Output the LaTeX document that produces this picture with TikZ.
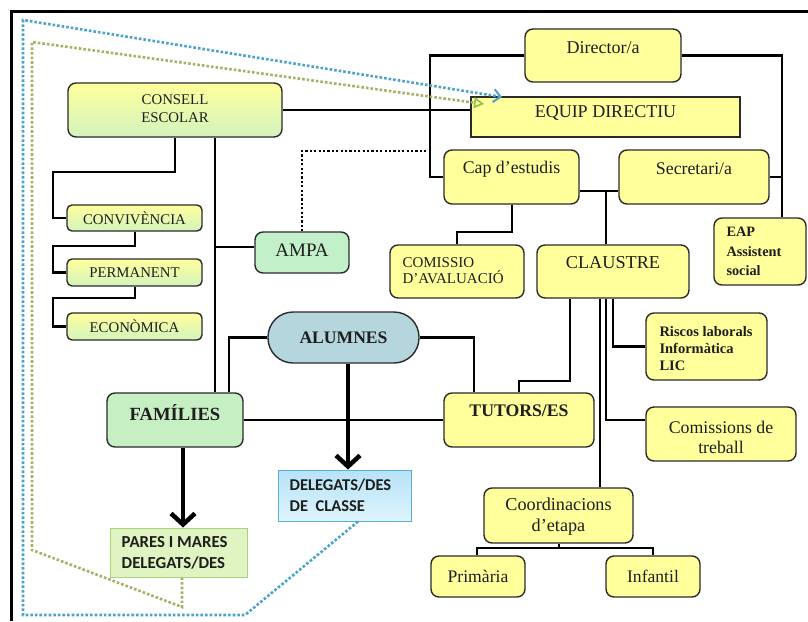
\documentclass[tikz,border=0pt]{standalone}
\usepackage{fontspec}
\setmainfont{Liberation Serif}
\newfontfamily\calfont{Carlito}
\usetikzlibrary{arrows.meta,calc}
\definecolor{yel}{HTML}{FFFF9C}
\definecolor{bord}{HTML}{2B2B2B}
\definecolor{txt}{HTML}{1E1E1E}
\definecolor{ceg}{HTML}{D3F4BE}
\definecolor{famg}{HTML}{C6F0C4}
\definecolor{ampg}{HTML}{C2F0C8}
\definecolor{alb}{HTML}{B5D6DC}
\definecolor{dctop}{HTML}{B7E3F7}
\definecolor{dcbot}{HTML}{DDF4FC}
\definecolor{dcbord}{HTML}{5AAFD9}
\definecolor{parf}{HTML}{E0F4C2}
\definecolor{parbord}{HTML}{A9D37F}
\definecolor{bluedot}{HTML}{4BA3CB}
\definecolor{greendot}{HTML}{A8B067}
\definecolor{greentip}{HTML}{8CBF4E}
\newcommand{\fz}[2]{\fontsize{#1}{#2}\selectfont}
\newcommand{\mkbox}[6]{%
  \node[#2, minimum width={(#5-#3)*1pt}, minimum height={(#6-#4)*1pt}] (#1) at ({(#3+#5)/2},{(#4+#6)/2}) {};}
\begin{document}
\begin{tikzpicture}[x=1pt,y=-1pt,
  box/.style={draw=bord, line width=1.4pt, rounded corners=8pt, fill=yel, inner sep=0pt},
  sqbox/.style={box, rounded corners=0pt},
  cbox/.style={box, rounded corners=5pt, top color=yel, bottom color=ceg},
  dcbox/.style={draw=dcbord, line width=1pt, top color=dctop, bottom color=dcbot, inner sep=0pt},
  parbox/.style={draw=parbord, line width=1pt, fill=parf, inner sep=0pt},
  lbl/.style={inner sep=0pt, align=center, text=txt},
  lbll/.style={inner sep=0pt, align=left, text=txt, anchor=west},
  conn/.style={line width=2.6pt, black},
  arr/.style={line width=4.5pt, black, -{Straight Barb[length=11pt,width=24pt]}},
  blackdot/.style={line width=2.2pt, black, dash pattern=on 2.2pt off 2.2pt},
  bluedotl/.style={line width=2.6pt, bluedot, dash pattern=on 2.6pt off 2pt, -{Straight Barb[length=7pt,width=13pt,line width=2pt]}},
  greendotl/.style={line width=2.6pt, greendot, dash pattern=on 2.6pt off 2pt, -{Triangle[open,length=10pt,width=11pt,line width=1.6pt,color=greentip]}}
]
\useasboundingbox (0,0) rectangle (808,621);
\fill[white] (0,0) rectangle (808,621);
\draw[line width=3pt] (11,621) -- (11,11) -- (808,11);

% boxes
\mkbox{dir}{box}{525}{29}{681}{82}
\mkbox{ed}{sqbox}{471}{97}{740}{137}
\mkbox{ce}{box, top color=yel, bottom color=ceg}{68}{83}{282}{137}
\mkbox{cap}{box}{444}{150}{579}{204}
\mkbox{sec}{box}{619}{150}{769}{204}
\mkbox{eap}{box}{714}{218}{806}{285}
\mkbox{com}{box}{390}{245}{524}{298}
\mkbox{cl}{box}{537}{245}{689}{298}
\mkbox{cv}{cbox}{67}{205}{202}{231}
\mkbox{pm}{cbox}{67}{259}{202}{286}
\mkbox{ec}{cbox}{67}{313}{202}{340}
\mkbox{amp}{box, fill=ampg}{255}{232}{349}{273}
\mkbox{al}{box, fill=alb, rounded corners=25pt}{268}{312}{419}{363}
\mkbox{fam}{box, fill=famg}{107}{393}{243}{447}
\mkbox{tut}{box}{444}{393}{594}{447}
\mkbox{risc}{box}{646}{313}{767}{380}
\mkbox{ct}{box}{646}{407}{796}{461}
\mkbox{co}{box}{484}{488}{633}{543}
\mkbox{pri}{box}{431}{556}{525}{597}
\mkbox{inf}{box}{606}{556}{700}{597}
\mkbox{dc}{dcbox}{278}{470}{411}{521}
\mkbox{par}{parbox}{110}{528}{247}{577}

% labels
\node[lbl, font=\fz{18}{20}] (dirt) at ([yshift=7.5pt]dir.center) {Director/a};
\node[lbl, font=\fz{18}{20}] (edt) at ([yshift=4pt]ed.center) {EQUIP DIRECTIU};
\node[lbl, font=\fz{14.8}{18}] (cet) at ([yshift=1pt]ce.center) {CONSELL\\ESCOLAR};
\node[lbl, font=\fz{17.8}{20}] (capt) at ([yshift=8pt]cap.center) {Cap d’estudis};
\node[lbl, font=\fz{17.8}{20}] (sect) at ([yshift=8pt]sec.center) {Secretari/a};
\node[lbll, font=\bfseries\fz{14.3}{19.5}] (eapt) at ([xshift=13pt]eap.west) {EAP\\Assistent\\social};
\node[lbll, font=\fz{15}{16.5}] (comt) at ([xshift=13pt,yshift=1pt]com.west) {COMISSIO\\D’AVALUACIÓ};
\node[lbl, font=\fz{18.2}{20}] (clt) at ([yshift=9pt]cl.center) {CLAUSTRE};
\node[lbl, font=\fz{14.8}{15}] (cvt) at (cv.center) {CONVIVÈNCIA};
\node[lbl, font=\fz{14.8}{15}] (pmt) at (pm.center) {PERMANENT};
\node[lbl, font=\fz{14.8}{15}] (ect) at (ec.center) {ECONÒMICA};
\node[lbl, font=\fz{19}{20}] (ampt) at ([yshift=2pt]amp.center) {AMPA};
\node[lbl, font=\bfseries\fz{17.6}{20}] (alt) at (al.center) {ALUMNES};
\node[lbl, font=\bfseries\fz{18.6}{20}] (famt) at ([yshift=7pt]fam.center) {FAMÍLIES};
\node[lbl, font=\bfseries\fz{17.7}{20}] (tutt) at ([yshift=9pt]tut.center) {TUTORS/ES};
\node[lbll, font=\bfseries\fz{14.5}{17}] (risct) at ([xshift=14pt,yshift=-2pt]risc.west) {Riscos laborals\\Informàtica\\LIC};
\node[lbl, font=\fz{17.8}{20}] (ctt) at ([yshift=-3pt]ct.center) {Comissions de\\treball};
\node[lbl, font=\fz{18.2}{21}] (cot) at ([yshift=-1pt]co.center) {Coordinacions\\d’etapa};
\node[lbl, font=\fz{17.6}{20}] (prit) at (pri.center) {Primària};
\node[lbl, font=\fz{17.6}{20}] (inft) at (inf.center) {Infantil};
\node[lbll, font=\calfont\bfseries\fz{16.5}{21}] (dct) at ([xshift=12pt]dc.west) {DELEGATS/DES\\DE~~CLASSE};
\node[lbll, font=\calfont\bfseries\fz{16.8}{21}] (part) at ([xshift=12pt]par.west) {PARES I MARES\\DELEGATS/DES};

% coordinates
\coordinate (vL) at (430,57);
\coordinate (vR) at (782,57);
\coordinate (j1) at (606,191);
\coordinate (c1) at (512,232);
\coordinate (c2) at (457,232);
\coordinate (k1) at (570,381);
\coordinate (k1b) at (519,381);
\coordinate (k2) at (600,300);
\coordinate (k3) at (606,420);
\coordinate (k4) at (613,346);
\coordinate (a1) at (229,340);
\coordinate (a2) at (474,338);
\coordinate (ar1) at (348,400);
\coordinate (ar2) at (183,500);
\coordinate (v2) at (215,247);
\coordinate (m0) at (175,172);
\coordinate (mL) at (53,200);
\coordinate (m1) at (135,246);
\coordinate (m2) at (135,298);
\coordinate (t0) at (559,548);
\coordinate (tl) at (477,548);
\coordinate (tr) at (653,548);
\coordinate (d1) at (302,151);
\coordinate (b1) at (358,525);
\coordinate (b2) at (245,615);
\coordinate (b3) at (23,615);
\coordinate (b4) at (23,20);
\coordinate (b5) at (502,97);
\coordinate (g1) at (182,585);
\coordinate (g2) at (182,607);
\coordinate (g3) at (32,550);
\coordinate (g4) at (32,42);
\coordinate (g5) at (484,104);

% connectors
\draw[conn] (dir.west) -| (vL |- cap.west) -- (cap.west);
\draw[conn] (dir.east) -| (vR |- eap.north);
\draw[conn] (sec.east) -- (sec.east -| vR);
\draw[conn] (ce.east) -- (ce.east -| ed.west);
\draw[conn] (cap.east |- j1) -- (sec.west |- j1);
\draw[conn] (j1) -- (j1 |- cl.north);
\draw[conn] (c1 |- cap.south) -- (c1) -- (c2) -- (c2 |- com.north);
\draw[conn] (k1 |- cl.south) -- (k1) -- (k1b) -- (k1b |- tut.north);
\draw[conn] (k2 |- cl.south) -- (k2 |- co.north);
\draw[conn] (k3 |- cl.south) -- (k3) -- (k3 -| ct.west);
\draw[conn] (k4 |- cl.south) |- (risc.west);
\draw[conn] (al.west) -| (a1 |- fam.north);
\draw[conn] (al.east) -| (a2 |- tut.north);
\draw[conn] (fam.east) -- (fam.east -| tut.west);
\draw[conn] (v2 |- ce.south) -- (v2 |- fam.north);
\draw[conn] (v2) -- (v2 -| amp.west);
\draw[conn] (m0 |- ce.south) -- (m0) -| (mL |- cv.west) -- (cv.west);
\draw[conn] (m1 |- cv.south) -- (m1) -| (mL |- pm.west) -- (pm.west);
\draw[conn] (m2 |- pm.south) -- (m2) -| (mL |- ec.west) -- (ec.west);
\draw[conn] (t0 |- co.south) -- (t0);
\draw[conn] (tl |- pri.north) -- (tl) -- (tr) -- (tr |- inf.north);
\draw[arr] (ar1 |- al.south) -- (ar1 |- dc.north);
\draw[arr] (ar2 |- fam.south) -- (ar2 |- par.north);
\draw[blackdot] (d1 |- amp.north) -- (d1) -- (d1 -| vL);
\draw[bluedotl] (b1 |- dc.south) -- (b2) -- (b3) -- (b4) -- (b5);
\draw[greendotl] (g1 |- par.south) -- (g2) -- (g3) -- (g4) -- (g5);
\end{tikzpicture}
\end{document}
